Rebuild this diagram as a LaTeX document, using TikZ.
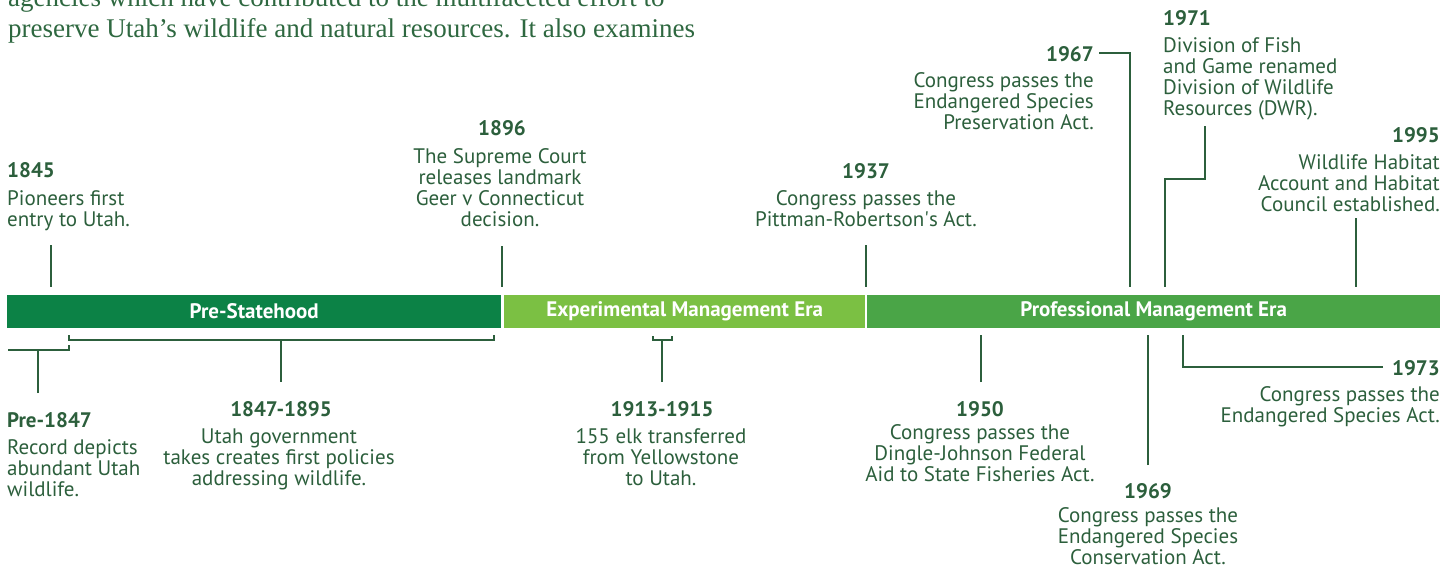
\documentclass[tikz,border=0pt]{standalone}
\usepackage{fontspec}
\newfontfamily\labelfont{PT Sans}
\newfontfamily\introfont{Liberation Serif}
\usetikzlibrary{positioning}

\definecolor{preGreen}{RGB}{12,130,70}
\definecolor{expGreen}{RGB}{123,192,67}
\definecolor{proGreen}{RGB}{74,165,71}
\definecolor{inkGreen}{RGB}{44,95,60}
\definecolor{introGreen}{RGB}{46,104,64}

\begin{document}
\begin{tikzpicture}[x=1pt, y=-1pt,
    era/.style={anchor=west, minimum height=33pt, inner sep=0pt, text=white,
      font=\labelfont\bfseries\fontsize{21}{21}\selectfont},
    year/.style={inner sep=0pt, text=inkGreen,
      font=\labelfont\bfseries\fontsize{21}{21}\selectfont},
    note/.style={inner sep=0pt, text=inkGreen,
      font=\labelfont\fontsize{21}{21}\selectfont},
    intro/.style={inner sep=0pt, anchor=base west, text=introGreen,
      font=\introfont\fontsize{27}{31}\selectfont},
    tick/.style={draw=inkGreen, line width=2pt},
    up/.style={tick, shorten >=8pt},
    down/.style={tick, shorten >=7pt}
  ]
  \useasboundingbox (0,0) rectangle (1452,568);
  \clip (0,0) rectangle (1452,568);

  % lead-in text
  \node[intro] (introA) at (8,6) {agencies which have contributed to the multifaceted effort to};
  \node[intro] (introB) at (8,37) {preserve Utah’s wildlife and natural resources. It also examines};

  % the three eras
  \node[era, fill=preGreen, minimum width=494pt] (pre) at (7,311.5) {Pre-Statehood};
  \node[era, fill=expGreen, minimum width=361pt] (exp) at (504,311.5) {Experimental Management Era};
  \node[era, fill=proGreen, minimum width=573pt] (prof) at (867,311.5) {Professional Management Era};

  % events above the bar (notes sit on the baseline of their last line)
  \node[year, anchor=base west] (y1845) at (7,177) {1845};
  \node[note, anchor=base west, align=left] (n1845) at (7,226) {Pioneers first\\entry to Utah.};
  \coordinate (k1845) at (51,245);
  \draw[up] (k1845) -- (k1845 |- pre.north);

  \node[year, anchor=base] (y1896) at (502,135) {1896};
  \node[note, anchor=base, align=center] (n1896) at (500,226)
    {The Supreme Court\\releases landmark\\Geer v Connecticut\\decision.};
  \coordinate (k1896) at (502,246);
  \draw[up] (k1896) -- (k1896 |- pre.north);

  \node[year, anchor=base] (y1937) at (866,178) {1937};
  \node[note, anchor=base, align=center] (n1937) at (866,226)
    {Congress passes the\\Pittman-Robertson\textquotesingle s Act.};
  \coordinate (k1937) at (866,245);
  \draw[up] (k1937) -- (k1937 |- prof.north);

  \node[year, anchor=base east] (y1967) at (1094,61) {1967};
  \node[note, anchor=base east, align=right] (n1967) at (1094,129)
    {Congress passes the\\Endangered Species\\Preservation Act.};
  \coordinate (k1967) at (1099,53);
  \coordinate (j1967) at (1130,53);
  \draw[up] (k1967) -- (j1967) -- (j1967 |- prof.north);

  \node[year, anchor=base west] (y1971) at (1163,25) {1971};
  \node[note, anchor=base west, align=left] (n1971) at (1163,115)
    {Division of Fish\\and Game renamed\\Division of Wildlife\\Resources (DWR).};
  \coordinate (k1971) at (1205,126);
  \coordinate (j1971) at (1165,179);
  \draw[up] (k1971) |- (j1971) -- (j1971 |- prof.north);

  \node[year, anchor=base east] (y1995) at (1440,142) {1995};
  \node[note, anchor=base east, align=right] (n1995) at (1440,211)
    {Wildlife Habitat\\Account and Habitat\\Council established.};
  \coordinate (k1995) at (1356,218);
  \draw[up] (k1995) -- (k1995 |- prof.north);

  % events below the bar
  \node[year, anchor=base west] (y1847) at (7,427) {Pre-1847};
  \node[note, anchor=base west, align=left] (n1847) at (7,496)
    {Record depicts\\abundant Utah\\wildlife.};
  \coordinate (b1847) at (8,350);
  \coordinate (c1847) at (69,345);
  \coordinate (k1847) at (38,393);
  \draw[tick] (b1847) -| (c1847);
  \draw[tick] (k1847) -- (k1847 |- b1847);

  \node[year, anchor=base] (y1895) at (281,416) {1847-1895};
  \node[note, anchor=base, align=center] (n1895) at (279,485)
    {Utah government\\takes creates first policies\\addressing wildlife.};
  \coordinate (a1895) at (69,335);
  \coordinate (m1895) at (281,340);
  \coordinate (b1895) at (494,335);
  \coordinate (k1895) at (281,382);
  \draw[tick] (a1895) |- (m1895) -| (b1895);
  \draw[tick] (m1895) -- (k1895);

  \node[year, anchor=base] (y1915) at (662,416) {1913-1915};
  \node[note, anchor=base, align=center] (n1915) at (661,485)
    {155 elk transferred\\from Yellowstone\\to Utah.};
  \coordinate (a1915) at (653,336);
  \coordinate (m1915) at (662,340);
  \coordinate (b1915) at (672,336);
  \coordinate (k1915) at (662,382);
  \draw[tick] (a1915) |- (m1915) -| (b1915);
  \draw[tick] (m1915) -- (k1915);

  \node[year, anchor=base] (y1950) at (980,416) {1950};
  \node[note, anchor=base, align=center] (n1950) at (980,481)
    {Congress passes the\\Dingle-Johnson Federal\\Aid to State Fisheries Act.};
  \coordinate (k1950) at (981,382);
  \draw[down] (k1950) -- (k1950 |- prof.south);

  \node[year, anchor=base] (y1969) at (1148,498) {1969};
  \node[note, anchor=base, align=center] (n1969) at (1148,564)
    {Congress passes the\\Endangered Species\\Conservation Act.};
  \coordinate (k1969) at (1148,465);
  \draw[down] (k1969) -- (k1969 |- prof.south);

  \node[year, anchor=base east] (y1973) at (1440,375) {1973};
  \node[note, anchor=base east, align=right] (n1973) at (1440,422)
    {Congress passes the\\Endangered Species Act.};
  \coordinate (k1973) at (1383,367);
  \coordinate (j1973) at (1183,367);
  \draw[down] (k1973) -- (j1973) -- (j1973 |- prof.south);

\end{tikzpicture}
\end{document}
